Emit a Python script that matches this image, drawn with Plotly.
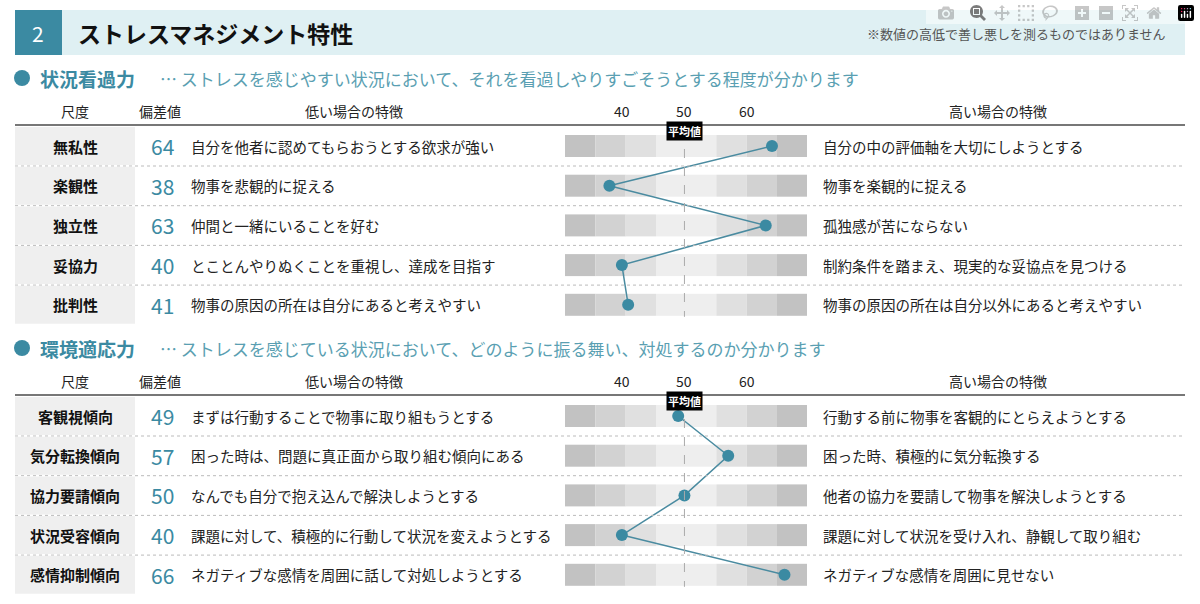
import plotly.graph_objects as go

title_num = "2"
title = "ストレスマネジメント特性"
note = "※数値の高低で善し悪しを測るものではありません"
sections = ["状況看過力", "環境適応力"]
subtitles = ["… ストレスを感じやすい状況において、それを看過しやりすごそうとする程度が分かります",
             "… ストレスを感じている状況において、どのように振る舞い、対処するのか分かります"]
scales = [["無私性", "楽観性", "独立性", "妥協力", "批判性"],
          ["客観視傾向", "気分転換傾向", "協力要請傾向", "状況受容傾向", "感情抑制傾向"]]
values = [[64, 38, 63, 40, 41], [49, 57, 50, 40, 66]]
low_text = [["自分を他者に認めてもらおうとする欲求が強い", "物事を悲観的に捉える", "仲間と一緒にいることを好む",
             "とことんやりぬくことを重視し、達成を目指す", "物事の原因の所在は自分にあると考えやすい"],
            ["まずは行動することで物事に取り組もうとする", "困った時は、問題に真正面から取り組む傾向にある",
             "なんでも自分で抱え込んで解決しようとする", "課題に対して、積極的に行動して状況を変えようとする",
             "ネガティブな感情を周囲に話して対処しようとする"]]
high_text = [["自分の中の評価軸を大切にしようとする", "物事を楽観的に捉える", "孤独感が苦にならない",
              "制約条件を踏まえ、現実的な妥協点を見つける", "物事の原因の所在は自分以外にあると考えやすい"],
             ["行動する前に物事を客観的にとらえようとする", "困った時、積極的に気分転換する",
              "他者の協力を要請して物事を解決しようとする", "課題に対して状況を受け入れ、静観して取り組む",
              "ネガティブな感情を周囲に見せない"]]
ticks = [40, 50, 60]
band_edges = [30.9, 35.75, 40.6, 45.45, 50.25, 55.1, 59.95, 64.8, 69.6]
band_colors = ["#c2c2c2", "#d2d2d2", "#e0e0e0", "#eeeeee", "#eeeeee", "#e0e0e0", "#d2d2d2", "#c2c2c2"]

F = "Noto Sans CJK JP"
TEAL = "#3b8aa2"
fig = go.Figure()
shapes, ann = [], []

def T(x, y, s, size=15, color="#222", anchor="left", bold=False, xref="x", bg=None):
    ann.append(dict(x=x, y=y, xref=xref, yref="y", text=("<b>%s</b>" % s) if bold else s, showarrow=False,
                    xanchor=anchor, yanchor="middle", font=dict(family=F, size=size, color=color),
                    bgcolor=bg, borderpad=1))

shapes.append(dict(type="rect", xref="x", yref="y", x0=15, x1=1185, y0=10, y1=55, fillcolor="#dff0f3", line_width=0))
shapes.append(dict(type="rect", xref="x", yref="y", x0=15, x1=62, y0=10, y1=55, fillcolor=TEAL, line_width=0))
T(38, 33, title_num, 21, "white", "center")
T(76, 33, title, 23, "#111", bold=True)
T(1168, 33, note, 13, "#555", "right")

sec_top = [78, 348]
for s in range(2):
    top = sec_top[s]
    shapes.append(dict(type="circle", xref="x", yref="y", x0=14, x1=30, y0=top-8, y1=top+8, fillcolor=TEAL, line_width=0))
    T(38, top, sections[s], 19, TEAL, bold=True)
    T(158, top, subtitles[s], 17, "#5a9fb2")
    hy = top + 33
    T(75, hy, "尺度", 14, "#222", "center")
    T(160, hy, "偏差値", 14, "#222", "center")
    T(354, hy, "低い場合の特徴", 14, "#222", "center")
    T(998, hy, "高い場合の特徴", 14, "#222", "center")
    for t in ticks:
        T(t, hy, str(t), 14, "#222", "center", xref="x2")
    shapes.append(dict(type="line", xref="x", yref="y", x0=15, x1=1185, y0=top+47, y1=top+47, line=dict(color="#777", width=2)))
    ys = [top + 68 + 39.7 * i for i in range(5)]
    for i, y in enumerate(ys):
        shapes.append(dict(type="rect", xref="x", yref="y", x0=15, x1=135, y0=y-19, y1=y+19, fillcolor="#efefef", line_width=0))
        if i < 4:
            shapes.append(dict(type="line", xref="x", yref="y", x0=15, x1=1185, y0=y+20, y1=y+20, line=dict(color="#bbb", width=1, dash="dot")))
        for b in range(8):
            shapes.append(dict(type="rect", xref="x2", yref="y", x0=band_edges[b], x1=band_edges[b+1], y0=y-11, y1=y+11,
                               fillcolor=band_colors[b], line_width=0, layer="below"))
        T(75, y, scales[s][i], 15, "#111", "center", bold=True)
        T(162, y, str(values[s][i]), 21, TEAL, "center")
        T(189, y, low_text[s][i], 14.5, "#222")
        T(821, y, high_text[s][i], 14.5, "#222")
    shapes.append(dict(type="line", xref="x2", yref="y", x0=50, x1=50, y0=ys[0]-15, y1=ys[-1]+12, line=dict(color="#aaa", width=1, dash="dash")))
    T(50, ys[0]-15, "<b>平均値</b>", 11, "white", "center", xref="x2", bg="black")
    fig.add_trace(go.Scatter(x=values[s], y=ys, xaxis="x2", yaxis="y", mode="lines+markers",
                             line=dict(color="#4a8ba0", width=1.5), marker=dict(size=12, color=TEAL), hoverinfo="skip"))

fig.update_layout(width=1200, height=604, margin=dict(l=0, r=0, t=0, b=0), showlegend=False,
                  paper_bgcolor="white", plot_bgcolor="rgba(0,0,0,0)", shapes=shapes, annotations=ann,
                  xaxis=dict(range=[0, 1200], domain=[0, 1], visible=False, anchor="y"),
                  xaxis2=dict(range=[30.9, 69.6], domain=[565/1200, 807/1200], visible=False, anchor="y"),
                  yaxis=dict(range=[604, 0], domain=[0, 1], visible=False, anchor="x"))
fig.write_html("out.html")
with open("out.html", encoding="utf-8") as f:
    html = f.read()
html = html.replace("<head>", "<head><style>html,body{margin:0;padding:0;overflow:hidden;}</style>", 1)
with open("out.html", "w", encoding="utf-8") as f:
    f.write(html)
